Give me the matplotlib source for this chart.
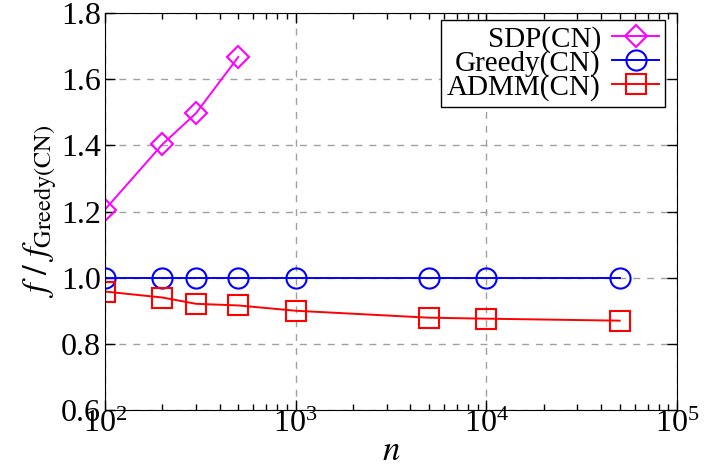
import numpy as np
import matplotlib
matplotlib.use("Agg")
import matplotlib.pyplot as plt
from matplotlib.ticker import FormatStrFormatter, LogLocator

plt.rcParams['font.family'] = ['Liberation Serif', 'DejaVu Serif']
plt.rcParams['mathtext.fontset'] = 'stix'

n_sdp = [100, 200, 300, 500]
sdp = [1.206, 1.403, 1.497, 1.667]

n_all = [100, 200, 300, 500, 1000, 5000, 10000, 50000]
greedy = [1.0, 1.0, 1.0, 1.0, 1.0, 1.0, 1.0, 1.0]
admm = [0.958, 0.940, 0.921, 0.916, 0.900, 0.879, 0.876, 0.870]

yticks = [0.6, 0.8, 1.0, 1.2, 1.4, 1.6, 1.8]

fig = plt.figure(figsize=(7.26, 4.72), dpi=100)
ax = fig.add_axes([0.1446, 0.1314, 0.788, 0.841])

ax.plot(n_sdp, sdp, color='#ff00ff', lw=1.4, marker='D', ms=11, mfc='none',
        mew=1.5, label='SDP(CN)')
ax.plot(n_all, greedy, color='#0000ff', lw=1.4, marker='o', ms=14.5, mfc='none',
        mew=1.5, label='Greedy(CN)')
ax.plot(n_all, admm, color='#ff0000', lw=1.4, marker='s', ms=14, mfc='none',
        mew=1.5, label='ADMM(CN)')

ax.set_xscale('log')
ax.set_xlim(1e2, 1e5)
ax.set_ylim(0.6, 1.8)
ax.set_yticks(yticks)
ax.yaxis.set_major_formatter(FormatStrFormatter('%.1f'))
ax.xaxis.set_minor_locator(LogLocator(base=10, subs=np.arange(2, 10)))

ax.tick_params(which='both', direction='in', top=True, right=True, labelsize=23)
ax.tick_params(axis='y', pad=3)
ax.tick_params(axis='x', pad=0)
ax.tick_params(which='major', length=7, width=1)
ax.tick_params(which='minor', length=4, width=1)
ax.grid(True, which='major', ls=(0, (5, 5)), color='#a0a0a0', lw=1.0)

ax.set_xlabel('$n$', fontsize=25, labelpad=-3)
ax.set_ylabel(r'$f\ /\ f_{\mathrm{Greedy(CN)}}$', fontsize=25, labelpad=1)

leg = ax.legend(loc='upper right', markerfirst=False, fontsize=21,
                handlelength=1.6, handletextpad=0.4, labelspacing=-0.1,
                borderpad=0.2, fancybox=False, framealpha=1,
                edgecolor='black', borderaxespad=0,
                bbox_to_anchor=(665 / 726, (472 - 20) / 472),
                bbox_transform=fig.transFigure)
leg.get_frame().set_linewidth(1.0)

fig.savefig('out.png', dpi=100)
